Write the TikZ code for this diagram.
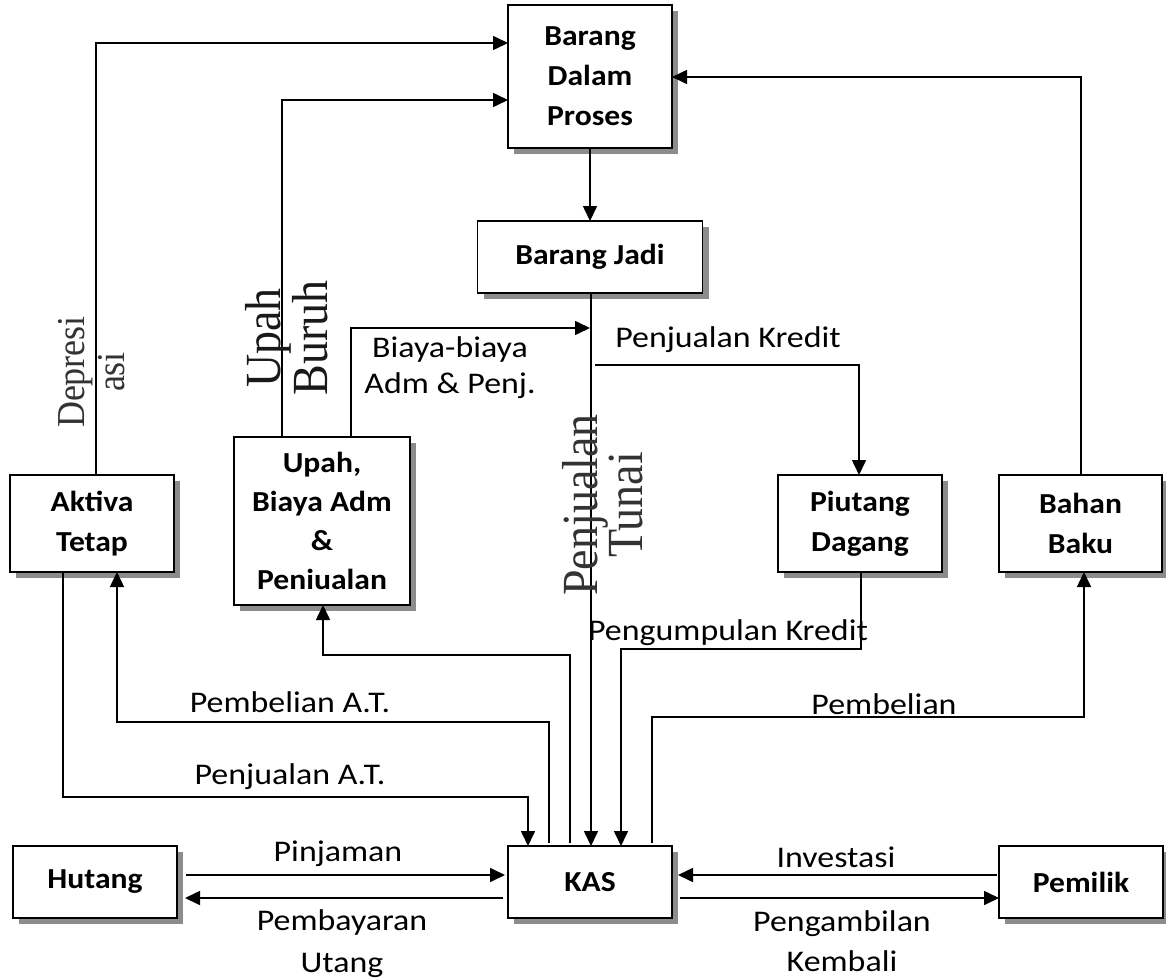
\documentclass[tikz,border=0pt]{standalone}
\usepackage{fontspec}
\setmainfont{Carlito}
\newfontfamily\rotserif{Liberation Serif}
\usetikzlibrary{arrows.meta,shadows}
% horizontally widened text
\newcommand{\lbltext}[1]{\scalebox{1.13}[1]{#1}}
\newcommand{\boxtext}[1]{\scalebox{1.09}[1]{#1}}
\newcommand{\rottext}[1]{\scalebox{1}[1.1]{#1}}
\begin{document}
\begin{tikzpicture}[x=1pt,y=-1pt,
  box/.style={draw,line width=1.6pt,fill=white,inner sep=0pt,outer sep=0pt,align=center,
    font=\bfseries\fontsize{29}{40}\selectfont,
    drop shadow={shadow xshift=6pt,shadow yshift=-6pt,fill=black!45,opacity=1}},
  lbl/.style={inner sep=0pt,anchor=base,align=center,font=\fontsize{30}{40}\selectfont},
  rot/.style={rotate=90,inner sep=0pt,align=center,text=black!80},
  ln/.style={line width=1.6pt},
  arr/.style={line width=1.6pt,-{Triangle[length=15pt,width=14pt]}},
  ]
\useasboundingbox (0,0) rectangle (1166,979);

% boxes
\node[box,minimum width=164pt,minimum height=143pt] (bdp) at (590,76.5)
  {\boxtext{Barang}\\\boxtext{Dalam}\\\boxtext{Proses}};
\node[box,minimum width=225pt,minimum height=72pt] (jadi) at (590,257)
  {\boxtext{Barang Jadi}};
\node[box,minimum width=164pt,minimum height=97pt] (aktiva) at (92,523.5)
  {\boxtext{Aktiva}\\\boxtext{Tetap}};
\node[box,minimum width=176pt,minimum height=168pt,font=\bfseries\fontsize{29}{39}\selectfont] (upah) at (322,521)
  {\boxtext{Upah,}\\\boxtext{Biaya Adm}\\\boxtext{\&}\\\boxtext{Peniualan}};
\node[box,minimum width=164pt,minimum height=97pt] (piutang) at (860,523.5)
  {\boxtext{Piutang}\\\boxtext{Dagang}};
\node[box,minimum width=163pt,minimum height=97pt] (bahan) at (1080.5,523.5)
  {\boxtext{Bahan}\\\boxtext{Baku}};
\node[box,minimum width=164pt,minimum height=72pt] (hutang) at (95,882)
  {\boxtext{Hutang}};
\node[box,minimum width=164pt,minimum height=72pt] (kas) at (590,882)
  {\boxtext{KAS}};
\node[box,minimum width=164pt,minimum height=72pt] (pemilik) at (1081,882)
  {\boxtext{Pemilik}};

% junctions on the Penjualan Tunai line
\coordinate (jBiaya) at (590,328);
\coordinate (jKredit) at (595,365);

% flows into Barang Dalam Proses
\draw[arr] (96,0 |- aktiva.north) |- (bdp.west |- 0,43);
\draw[arr] (282,0 |- upah.north) |- (bdp.west |- 0,100);
\draw[arr] (1081,0 |- bahan.north) |- (bdp.east |- 0,77);
\draw[arr] (bdp.south) -- (jadi.north);
\draw[arr] (351,0 |- upah.north) |- (jBiaya);

% sales
\draw[arr] (591,0 |- jadi.south) -- (591,0 |- kas.north);
\draw[arr] (jKredit) -| (859,0 |- piutang.north);
\draw[arr] (861,0 |- piutang.south) -- (861,649) -| (621,0 |- kas.north);

% payments out of KAS
\draw[arr,shorten <=3pt] (652,0 |- kas.north) -- (652,717) -| (1084,0 |- bahan.south);
\draw[arr,shorten <=3pt] (549,0 |- kas.north) -- (549,722) -| (117,0 |- aktiva.south);
\draw[arr,shorten <=3pt] (570,0 |- kas.north) -- (570,655) -| (323,0 |- upah.south);
\draw[arr] (63,0 |- aktiva.south) -- (63,797) -| (528,0 |- kas.north);

% side flows
\draw[arr,shorten <=9pt,shorten >=3pt] (hutang.east |- 0,875) -- (kas.west |- 0,875);
\draw[arr,shorten <=5pt,shorten >=8pt] (kas.west |- 0,898) -- (hutang.east |- 0,898);
\draw[arr,shorten <=2pt,shorten >=6pt] (pemilik.west |- 0,875) -- (kas.east |- 0,875);
\draw[arr,shorten <=8pt] (kas.east |- 0,898) -- (pemilik.west |- 0,898);

% connector labels (multi-line ones sit on the baseline of their last line)
\node[lbl,font=\fontsize{30}{36}\selectfont] (lBiaya) at (450,393) {\lbltext{Biaya-biaya}\\\lbltext{Adm \& Penj.}};
\node[lbl] (lKredit) at (728,347) {\lbltext{Penjualan Kredit}};
\node[lbl] (lKumpul) at (728,640) {\lbltext{Pengumpulan Kredit}};
\node[lbl] (lBeliAT) at (290,712) {\lbltext{Pembelian A.T.}};
\node[lbl] (lJualAT) at (290,784) {\lbltext{Penjualan A.T.}};
\node[lbl] (lBeli) at (884,714) {\lbltext{Pembelian}};
\node[lbl] (lPinjam) at (338,861) {\lbltext{Pinjaman}};
\node[lbl] (lInvest) at (836,867) {\lbltext{Investasi}};
\node[lbl,font=\fontsize{30}{42}\selectfont] (lBayar) at (342,972) {\lbltext{Pembayaran}\\\lbltext{Utang}};
\node[lbl] (lAmbil) at (842,971) {\lbltext{Pengambilan}\\\lbltext{Kembali}};

% rotated labels
\node[rot,font=\rotserif\fontsize{36}{40}\selectfont] (lDep) at (92,372)
  {\rottext{Depresi}\\\rottext{asi}};
\node[rot,font=\rotserif\fontsize{46}{41}\selectfont,text=black!90] (lBuruh) at (287,338)
  {\rottext{Upah}\\\rottext{Buruh}};
\node[rot,font=\rotserif\fontsize{46}{44}\selectfont] (lTunai) at (603,505)
  {\rottext{Penjualan}\\\rottext{Tunai}};
\end{tikzpicture}
\end{document}
